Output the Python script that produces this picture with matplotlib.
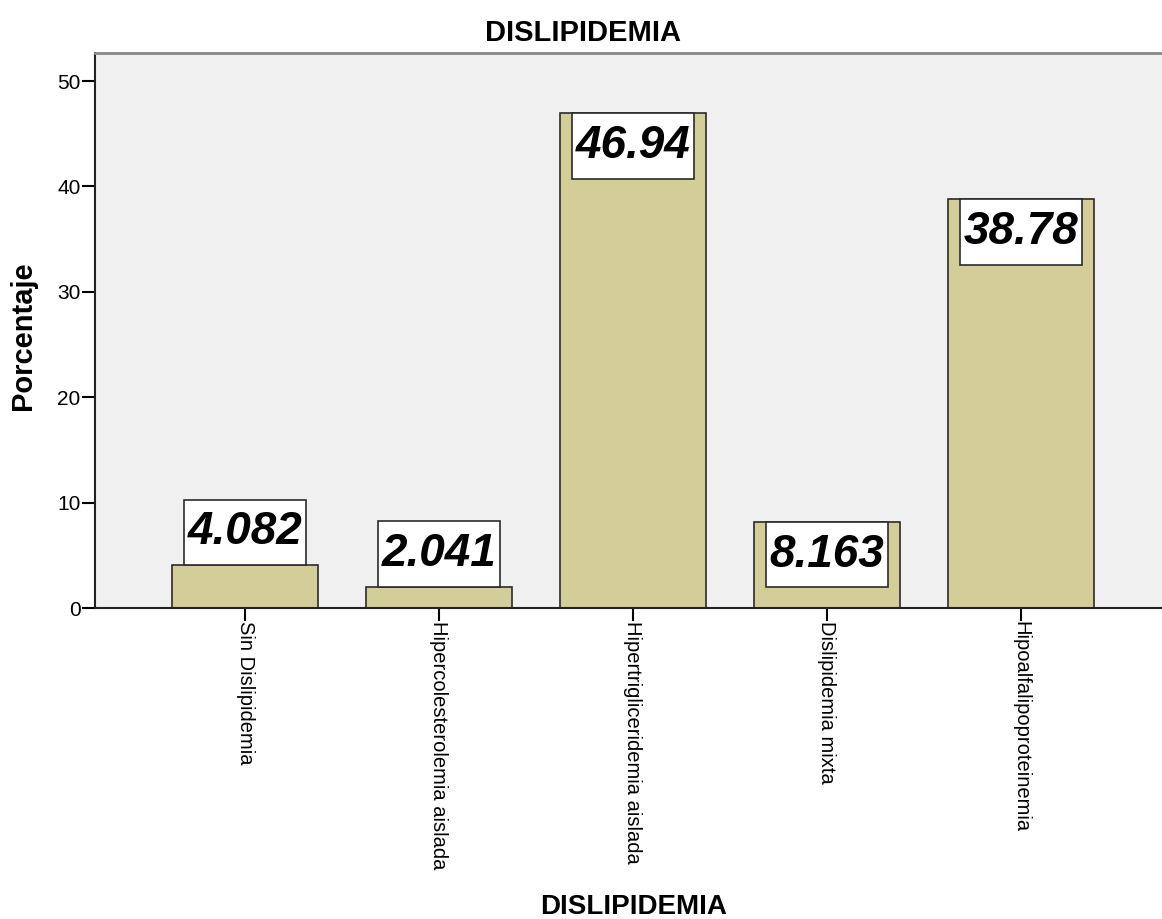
"""
    Gráfico de barras de dislipidemia (porcentajes)
"""
import matplotlib.pyplot as plt
from matplotlib.patches import Rectangle

categorias = ['Sin Dislipidemia', 'Hipercolesterolemia aislada',
              'Hipertrigliceridemia aislada', 'Dislipidemia mixta',
              'Hipoalfalipoproteinemia']
porcentajes = [4.082, 2.041, 46.94, 8.163, 38.78]
etiquetas = ['4.082', '2.041', '46.94', '8.163', '38.78']
yticks = [0, 10, 20, 30, 40, 50]

plt.rcParams['font.family'] = ['Liberation Sans', 'DejaVu Sans']

fig = plt.figure(figsize=(11.62, 9.19), dpi=100)
ax = fig.add_axes([0.0818, 0.3384, 0.9182, 0.6039])
ax.set_facecolor('#F0F0F0')

x = range(len(categorias))
ax.bar(x, porcentajes, width=0.75, color='#D3CE98', edgecolor='#2b2b2b',
       linewidth=1.2, zorder=2)

# Cajas con el valor: dentro de la barra si cabe, encima si no
alto_caja = 6.2
ancho_caja = 0.63
for i, (v, txt) in enumerate(zip(porcentajes, etiquetas)):
    base = v - alto_caja if v >= alto_caja else v
    ax.add_patch(Rectangle((i - ancho_caja / 2, base), ancho_caja, alto_caja,
                           facecolor='white', edgecolor='#2b2b2b',
                           linewidth=1.2, zorder=3))
    ax.text(i, base + alto_caja / 2, txt, ha='center', va='center',
            fontsize=33, fontweight='bold', fontstyle='italic', zorder=4)

ax.set_xlim(-0.773, 4.727)
ax.set_ylim(0, 52.66)
ax.set_yticks(yticks)
ax.set_xticks(list(x))
ax.set_xticklabels(categorias, rotation=270, ha='center', va='top',
                   fontsize=14.5)
ax.tick_params(axis='y', direction='out', length=9.5, width=1.5,
               labelsize=15, pad=1)
ax.tick_params(axis='x', direction='out', length=9.5, width=1.5, pad=0)

for s in ['left', 'bottom']:
    ax.spines[s].set_linewidth(1.5)
    ax.spines[s].set_color('#222222')
ax.spines['top'].set_color('#888888')
ax.spines['top'].set_linewidth(2)
ax.spines['right'].set_visible(False)

fig.text(0.502, 0.964, 'DISLIPIDEMIA', ha='center', va='center',
         fontsize=21, fontweight='bold')
ax.set_xlabel('DISLIPIDEMIA', fontsize=20, fontweight='bold', va='center')
ax.xaxis.set_label_coords(0.505, -0.538)
ax.set_ylabel('Porcentaje', fontsize=21, fontweight='bold', va='center')
ax.yaxis.set_label_coords(-0.0675, 0.49)

plt.savefig('out.png', dpi=100)
